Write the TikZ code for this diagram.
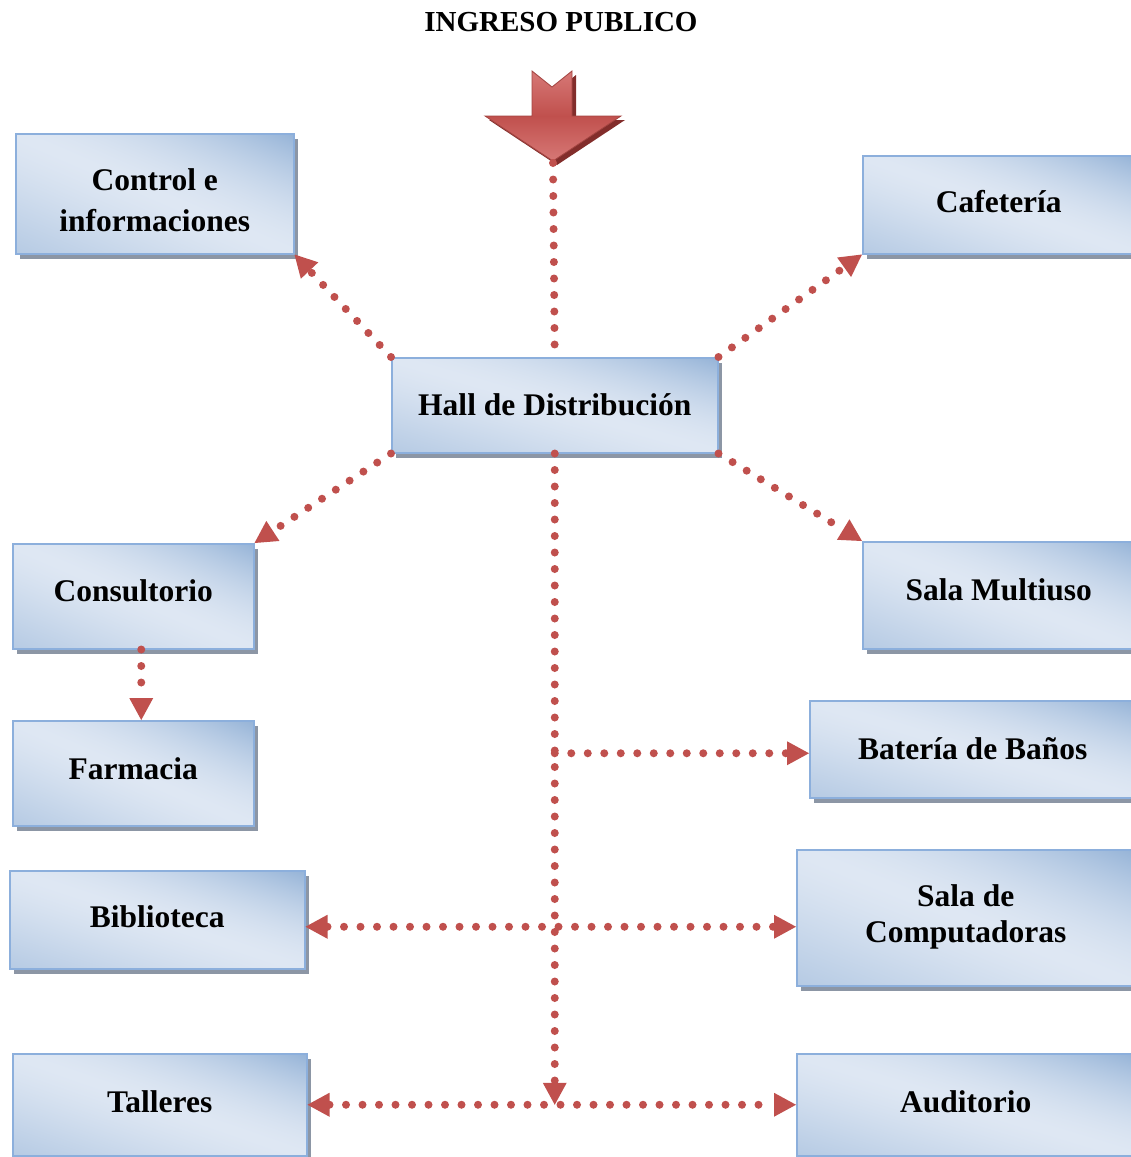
\documentclass[tikz,border=0pt]{standalone}
\usepackage{fontspec}
\setmainfont{Liberation Serif}
\usetikzlibrary{arrows.meta,shadows}

\definecolor{linkred}{RGB}{192,80,77}
\definecolor{arrowlight}{RGB}{215,120,118}
\definecolor{arrowshade}{RGB}{130,45,43}
\definecolor{boxedge}{RGB}{140,175,220}
\definecolor{shadowgray}{RGB}{140,150,165}

% degradado diagonal de los ambientes
\pgfdeclarefunctionalshading{roomfill}{\pgfpoint{-50bp}{-50bp}}{\pgfpoint{50bp}{50bp}}{}{
  add 50 div dup abs dup sqrt mul exch 0.225 mul 0.775 add mul
  dup -0.287 mul 0.871 add
  exch dup -0.204 mul 0.906 add
  exch -0.110 mul 0.953 add
}

\tikzset{
  room/.style={draw=boxedge, line width=1.5pt, shading=roomfill, anchor=north west,
    inner sep=0pt, align=center, font=\bfseries\fontsize{31.5}{41}\selectfont, text depth=7pt,
    drop shadow={shadow xshift=4pt, shadow yshift=-5pt, fill=shadowgray, opacity=1}},
  link/.style={draw=linkred, line width=8pt, line cap=round, dash pattern=on 0pt off 16.5pt},
  headend/.style={-{Triangle[length=22pt,width=24pt,line width=0pt]}},
  headboth/.style={{Triangle[length=22pt,width=24pt,line width=0pt]}-{Triangle[length=22pt,width=24pt,line width=0pt]}}
}

\begin{document}
\begin{tikzpicture}[x=1pt, y=-1pt]
    \useasboundingbox (0,0) rectangle (1131,1157);

    % Titulo
    \node[font=\bfseries\fontsize{29}{35}\selectfont] (title) at (561,22) {INGRESO PUBLICO};

    % Flecha de ingreso
    \path[top color=arrowlight, bottom color=arrowlight, middle color=linkred,
          draw=linkred!85!black, line width=0.8pt,
          drop shadow={shadow xshift=4pt, shadow yshift=-4pt, fill=arrowshade, opacity=1}]
        (532,71) -- (552,87) -- (572,71) -- (572,116) -- (621,116)
        -- (553,161) -- (485,116) -- (532,116) -- cycle;
    \coordinate (entry) at (553,163);

    % Ambientes
    \node[room, minimum width=278pt, minimum height=120pt, text height=76pt, text depth=0pt]
        (control) at (15,133) {Control e\\informaciones};
    \node[room, minimum width=272pt, minimum height=98pt] (cafeteria) at (862,155) {Cafetería};
    \node[room, minimum width=326pt, minimum height=95pt, text depth=2pt] (hall) at (391,357) {Hall de Distribución};
    \node[room, minimum width=241pt, minimum height=105pt, text depth=11pt] (consultorio) at (12,543) {Consultorio};
    \node[room, minimum width=272pt, minimum height=107pt, text depth=12pt] (multiuso) at (862,541) {Sala Multiuso};
    \node[room, minimum width=241pt, minimum height=105pt, text depth=10pt] (farmacia) at (12,720) {Farmacia};
    \node[room, minimum width=326pt, minimum height=97pt, text depth=1pt] (banos) at (809,700) {Batería de Baños};
    \node[room, minimum width=295pt, minimum height=98pt] (biblio) at (9,870) {Biblioteca};
    \node[room, minimum width=338pt, minimum height=136pt, text depth=8pt,
          font=\bfseries\fontsize{31.5}{36}\selectfont] (compu) at (796,849) {Sala de\\Computadoras};
    \node[room, minimum width=294pt, minimum height=102pt] (talleres) at (12,1053) {Talleres};
    \node[room, minimum width=338pt, minimum height=102pt] (auditorio) at (796,1053) {Auditorio};

    % Conexiones
    \draw[link] (entry) -- (hall.north);
    \foreach \from/\to in {north west/control.south east, north east/cafeteria.south west,
                           south west/consultorio.north east, south east/multiuso.north west}
        \draw[link, headend] (hall.\from) -- (\to);

    \coordinate (bottomjoin) at (hall.south |- talleres.east);
    \draw[link, headend] (hall.south) -- (bottomjoin);
    \draw[link, headend] ([yshift=-4pt]hall.south |- banos.west) -- ([yshift=-4pt]banos.west);
    \draw[link, headend] ([xshift=8pt]consultorio.south) -- ([xshift=8pt]farmacia.north);
    \draw[link, headboth] ([yshift=-7pt]biblio.east) -- ([yshift=-9pt]compu.west);
    \draw[link, headboth] (talleres.east) -- (auditorio.west);
\end{tikzpicture}
\end{document}
